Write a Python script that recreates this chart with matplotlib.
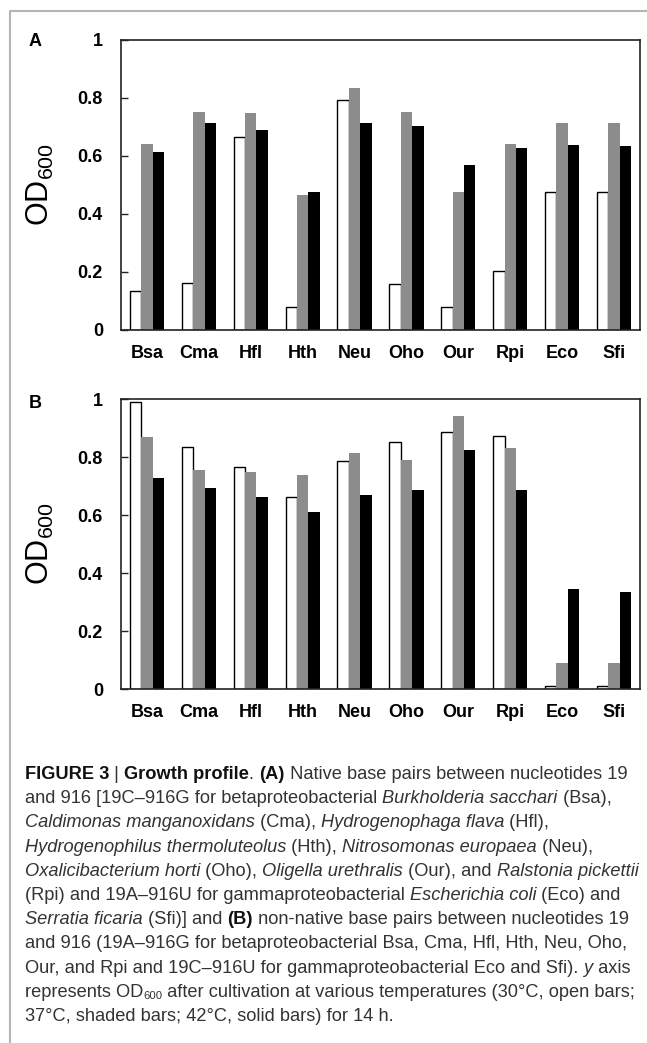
import matplotlib
matplotlib.use('Agg')
import matplotlib.pyplot as plt
import numpy as np
from matplotlib.lines import Line2D
from matplotlib.font_manager import FontProperties, fontManager

species = ['Bsa', 'Cma', 'Hfl', 'Hth', 'Neu', 'Oho', 'Our', 'Rpi', 'Eco', 'Sfi']

# panel A: native base pairs, OD600 at 30, 37, 42 C
a_30 = [0.134, 0.163, 0.666, 0.081, 0.794, 0.157, 0.081, 0.203, 0.476, 0.476]
a_37 = [0.643, 0.753, 0.748, 0.465, 0.835, 0.753, 0.476, 0.643, 0.713, 0.713]
a_42 = [0.615, 0.713, 0.691, 0.476, 0.713, 0.702, 0.569, 0.628, 0.638, 0.633]

# panel B: non-native base pairs
b_30 = [0.990, 0.835, 0.766, 0.663, 0.787, 0.852, 0.887, 0.874, 0.010, 0.010]
b_37 = [0.870, 0.755, 0.749, 0.738, 0.813, 0.788, 0.940, 0.831, 0.091, 0.091]
b_42 = [0.727, 0.692, 0.663, 0.610, 0.669, 0.686, 0.824, 0.686, 0.345, 0.334]

yticks = [0, 0.2, 0.4, 0.6, 0.8, 1]
ytick_labels = ['0', '0.2', '0.4', '0.6', '0.8', '1']

caption = [
    [('FIGURE 3', 'b'), (' | ', 'n'), ('Growth profile', 'b'), ('. ', 'n'), ('(A)', 'b'),
     (' Native base pairs between nucleotides 19', 'n')],
    [('and 916 [19C\u2013916G for betaproteobacterial ', 'n'), ('Burkholderia sacchari', 'i'),
     (' (Bsa),', 'n')],
    [('Caldimonas manganoxidans', 'i'), (' (Cma), ', 'n'), ('Hydrogenophaga flava', 'i'),
     (' (Hfl),', 'n')],
    [('Hydrogenophilus thermoluteolus', 'i'), (' (Hth), ', 'n'), ('Nitrosomonas europaea', 'i'),
     (' (Neu),', 'n')],
    [('Oxalicibacterium horti', 'i'), (' (Oho), ', 'n'), ('Oligella urethralis', 'i'),
     (' (Our), and ', 'n'), ('Ralstonia pickettii', 'i')],
    [('(Rpi) and 19A\u2013916U for gammaproteobacterial ', 'n'), ('Escherichia coli', 'i'),
     (' (Eco) and', 'n')],
    [('Serratia ficaria', 'i'), (' (Sfi)] and ', 'n'), ('(B)', 'b'),
     (' non-native base pairs between nucleotides 19', 'n')],
    [('and 916 (19A\u2013916G for betaproteobacterial Bsa, Cma, Hfl, Hth, Neu, Oho,', 'n')],
    [('Our, and Rpi and 19C\u2013916U for gammaproteobacterial Eco and Sfi). ', 'n'), ('y', 'i'),
     (' axis', 'n')],
    [('represents OD', 'n'), ('600', 'sub'),
     (' after cultivation at various temperatures (30\u00b0C, open bars;', 'n')],
    [('37\u00b0C, shaded bars; 42\u00b0C, solid bars) for 14 h.', 'n')],
]

plt.rcParams['font.family'] = ['Liberation Sans', 'DejaVu Sans']
plt.rcParams['mathtext.default'] = 'regular'

W, H = 647, 1043
fig = plt.figure(figsize=(W / 100, H / 100), dpi=100)


def add_axes_px(left, top, right, bottom):
    return fig.add_axes([left / W, 1 - bottom / H, (right - left) / W, (bottom - top) / H])


def draw_panel(ax, v30, v37, v42, letter, letter_y):
    x = np.arange(len(species))
    w = 0.22
    ax.bar(x - w, v30, w, color='white', edgecolor='black', linewidth=1.0)
    ax.bar(x, v37, w, color='#8c8c8c', edgecolor='none')
    ax.bar(x + w, v42, w, color='black', edgecolor='none')
    ax.set_xlim(-0.5, len(species) - 0.5)
    ax.set_ylim(0, 1)
    ax.set_yticks(yticks)
    ax.set_yticklabels(ytick_labels, fontweight='bold', fontsize=13)
    ax.set_xticks(x)
    ax.set_xticklabels(species, fontweight='bold', fontsize=13)
    ax.tick_params(axis='y', direction='in', length=5, width=1, pad=13, color='#222222')
    ax.tick_params(axis='x', length=0, pad=11)
    for s in ax.spines.values():
        s.set_linewidth(1.2)
        s.set_color('#222222')
    ax.set_ylabel('OD$_{600}$', fontsize=22)
    ax.yaxis.set_label_coords(-0.125, 0.5)
    fig.text(35 / W, 1 - letter_y / H, letter, fontsize=13, fontweight='bold',
             ha='center', va='center')


ax_a = add_axes_px(121, 40, 640, 330)
draw_panel(ax_a, a_30, a_37, a_42, 'A', 42)
ax_b = add_axes_px(121, 399, 640, 689)
draw_panel(ax_b, b_30, b_37, b_42, 'B', 403)

# gray frame round the figure
fig.add_artist(Line2D([10 / W, 10 / W, 1], [0, 1 - 11 / H, 1 - 11 / H],
                      transform=fig.transFigure, color='#b4b4b4', linewidth=1.5))

# caption
names = {f.name for f in fontManager.ttflist}
cap_family = 'Liberation Sans Narrow' if 'Liberation Sans Narrow' in names else 'Liberation Sans'
renderer = fig.canvas.get_renderer()


def seg_props(style, size):
    if style == 'b':
        return FontProperties(family=cap_family, weight='bold', size=size)
    if style == 'i':
        return FontProperties(family=cap_family, style='italic', size=size)
    if style == 'sub':
        return FontProperties(family=cap_family, size=size * 0.62)
    return FontProperties(family=cap_family, size=size)


def seg_width(txt, prop):
    w1 = renderer.get_text_width_height_descent('|' + txt + '|', prop, ismath=False)[0]
    w0 = renderer.get_text_width_height_descent('||', prop, ismath=False)[0]
    return w1 - w0


base = 10.0
w_line1 = sum(seg_width(t, seg_props(s, base)) for t, s in caption[0])
cap_fs = base * 602 / w_line1

y = 779
for line in caption:
    x = 25
    for txt, style in line:
        prop = seg_props(style, cap_fs)
        color = '#111111' if style == 'b' else '#333333'
        yy = y + 2 if style == 'sub' else y
        fig.text(x / W, 1 - yy / H, txt, fontproperties=prop, color=color,
                 ha='left', va='baseline')
        x += seg_width(txt, prop)
    y += 24.2

fig.savefig('out.png', dpi=100)
